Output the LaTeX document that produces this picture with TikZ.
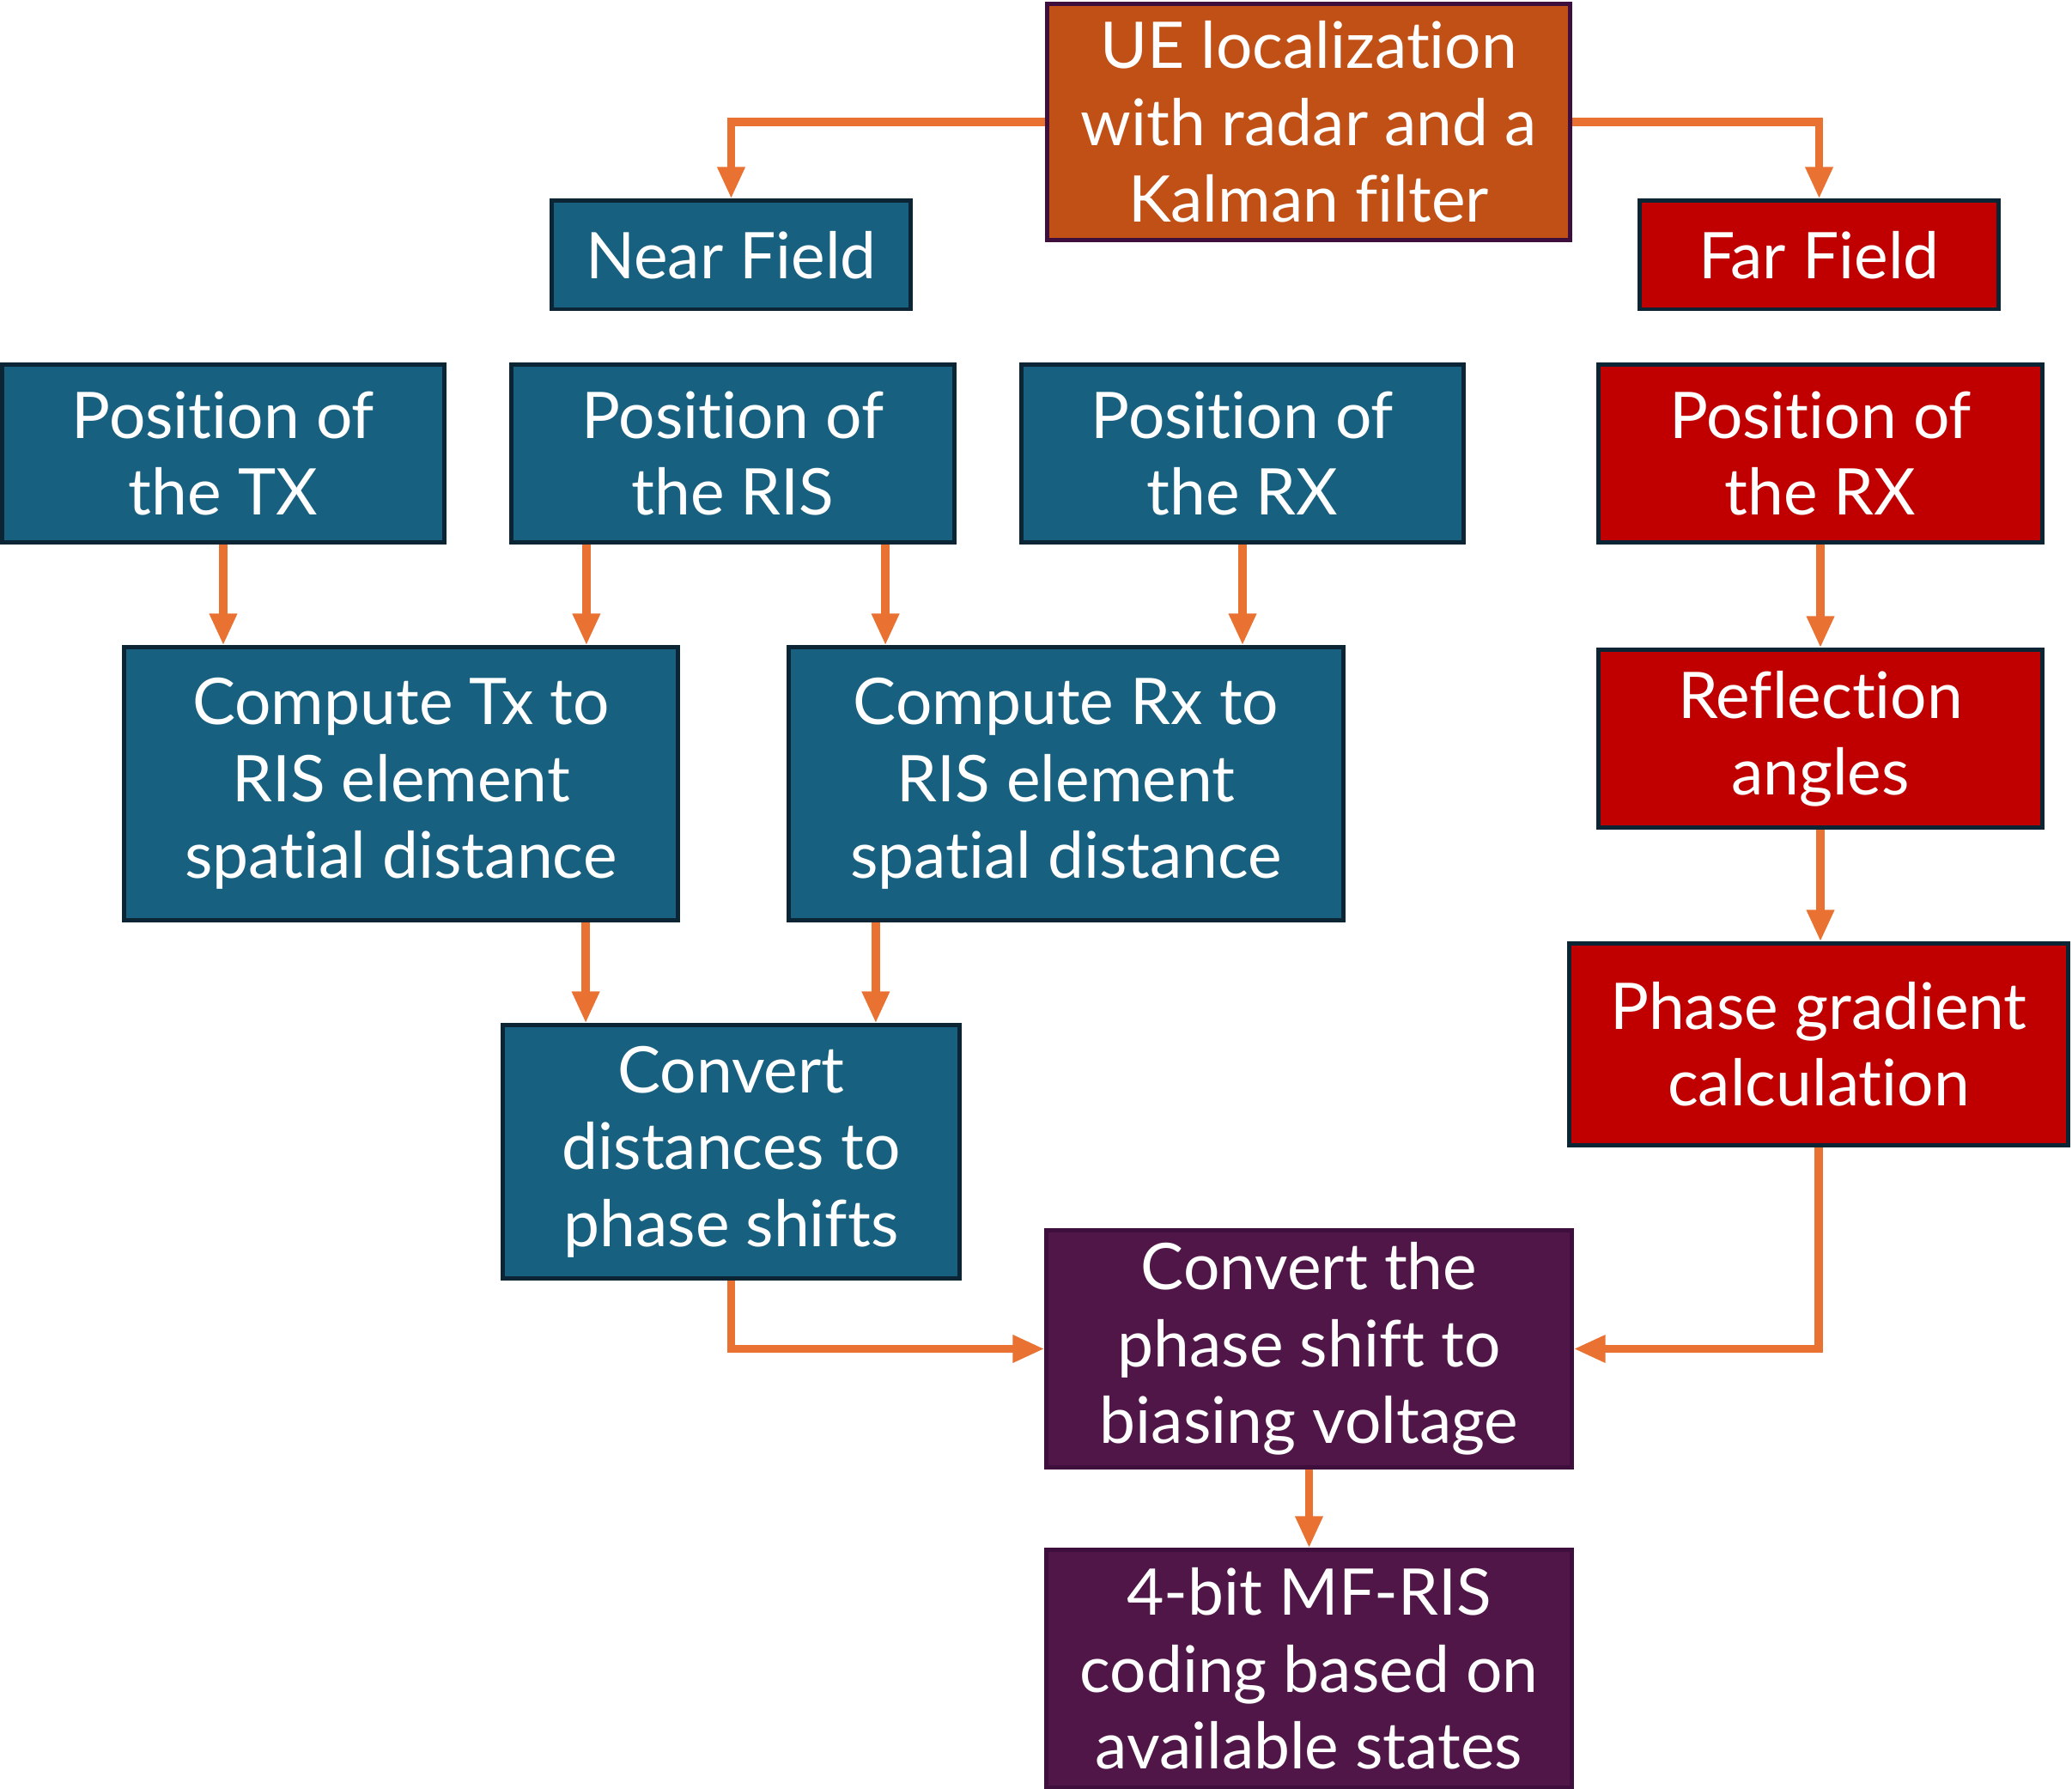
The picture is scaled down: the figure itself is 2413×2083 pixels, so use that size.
\documentclass[tikz,border=0pt]{standalone}
\usepackage{fontspec}
\setmainfont[Ligatures=NoCommon]{Lato}
\usetikzlibrary{arrows.meta}
\definecolor{cblue}{RGB}{23,96,127}
\definecolor{cblueb}{RGB}{11,37,53}
\definecolor{cred}{RGB}{192,0,0}
\definecolor{cpurp}{RGB}{80,22,72}
\definecolor{cpurpb}{RGB}{62,14,60}
\definecolor{corange}{RGB}{192,80,22}
\definecolor{carrow}{RGB}{233,113,50}
\begin{document}
\begin{tikzpicture}[x=0.01cm,y=-0.01cm,
  box/.style={draw, line width=1.4pt, text=white, align=center, inner sep=0pt,
    font=\fontsize{21.3}{25.4}\selectfont},
  bluebox/.style={box, fill=cblue, draw=cblueb},
  redbox/.style={box, fill=cred, draw=cblueb},
  purpbox/.style={box, fill=cpurp, draw=cpurpb},
  orbox/.style={box, fill=corange, draw=cpurpb},
  conn/.style={draw=carrow, line width=2.8pt, -{Triangle[length=0.37cm,width=0.3cm]}}]
\useasboundingbox (0,0) rectangle (2413,2083);
% boxes
\node[orbox, minimum width=6.08cm, minimum height=2.74cm] (ue) at (1524,142) {UE localization\\with radar and a\\Kalman filter};
\node[bluebox, minimum width=4.17cm, minimum height=1.26cm] (near) at (851.5,297) {Near Field};
\node[redbox, minimum width=4.17cm, minimum height=1.26cm] (far) at (2118.5,297) {Far Field};
\node[bluebox, minimum width=5.14cm, minimum height=2.06cm] (ptx) at (260,528) {Position of\\the TX};
\node[bluebox, minimum width=5.15cm, minimum height=2.06cm] (pris) at (853.5,528) {Position of\\the RIS};
\node[bluebox, minimum width=5.14cm, minimum height=2.06cm] (prx) at (1447,528) {Position of\\the RX};
\node[redbox, minimum width=5.16cm, minimum height=2.06cm] (pfrx) at (2120,528) {Position of\\the RX};
\node[bluebox, minimum width=6.44cm, minimum height=3.17cm] (ctx) at (467,912.5) {Compute Tx to\\RIS element\\spatial distance};
\node[bluebox, minimum width=6.45cm, minimum height=3.17cm] (crx) at (1241.5,912.5) {Compute Rx to\\RIS element\\spatial distance};
\node[redbox, minimum width=5.16cm, minimum height=2.06cm] (refl) at (2120,860) {Reflection\\angles};
\node[redbox, minimum width=5.80cm, minimum height=2.34cm] (pg) at (2118,1216) {Phase gradient\\calculation};
\node[bluebox, minimum width=5.31cm, minimum height=2.94cm] (cdist) at (851.5,1341) {Convert\\distances to\\phase shifts};
\node[purpbox, minimum width=6.11cm, minimum height=2.75cm] (cphase) at (1524.5,1570.5) {Convert the\\phase shift to\\biasing voltage};
\node[purpbox, minimum width=6.11cm, minimum height=2.76cm] (fourbit) at (1524.5,1943) {4-bit MF-RIS\\coding based on\\available states};
% connectors
\draw[conn] (ue.west) -| (near.north);
\draw[conn] (ue.east) -| (far.north);
\draw[conn] (ptx.south) -- (ctx.north -| ptx.south);
\draw[conn] ([xshift=-1.705cm]pris.south) -- ([xshift=-1.705cm]pris.south |- ctx.north);
\draw[conn] ([xshift=1.775cm]pris.south) -- ([xshift=1.775cm]pris.south |- crx.north);
\draw[conn] (prx.south) -- (crx.north -| prx.south);
\draw[conn] (pfrx.south) -- (refl.north);
\draw[conn] (refl.south) -- (refl.south |- pg.north);
\draw[conn] ([xshift=2.15cm]ctx.south) -- ([xshift=2.15cm]ctx.south |- cdist.north);
\draw[conn] ([xshift=-2.215cm]crx.south) -- ([xshift=-2.215cm]crx.south |- cdist.north);
\draw[conn] (cdist.south) |- (cphase.west);
\draw[conn] (pg.south) |- (cphase.east);
\draw[conn] (cphase.south) -- (fourbit.north);
\end{tikzpicture}
\end{document}
